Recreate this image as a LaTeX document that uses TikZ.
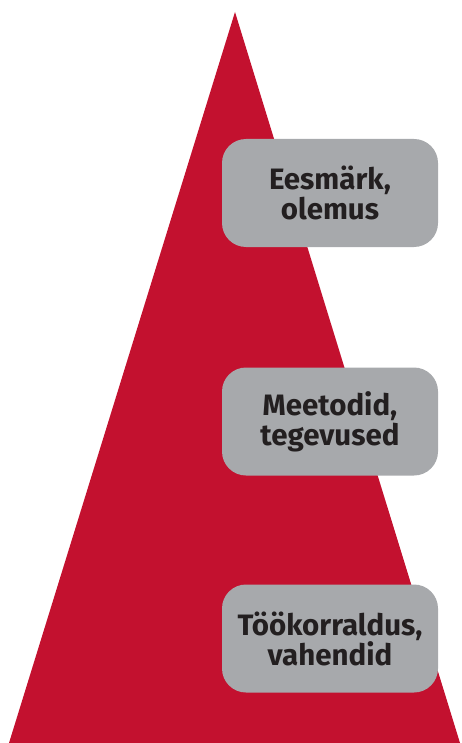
\documentclass[tikz,border=0pt]{standalone}
\usepackage{fontspec}
\setmainfont{Fira Sans}
\definecolor{pyrred}{HTML}{C3112F}
\definecolor{boxgrey}{HTML}{A7A9AC}
\definecolor{txt}{HTML}{231F20}
\begin{document}
\begin{tikzpicture}[x=1pt,y=-1pt,
  lbox/.style={fill=boxgrey, rounded corners=24pt, minimum width=216pt, minimum height=108pt,
    inner sep=0pt, align=center, text=txt, font=\fontsize{29.5}{30}\selectfont\bfseries}]
\useasboundingbox (0,0) rectangle (461,743);
\fill[pyrred] (235,12) -- (460,743) -- (9,743) -- cycle;
\node[lbox] (b1) at (330,193) {Eesmärk,\\olemus};
\node[lbox] (b2) at (330,421.5) {Meetodid,\\tegevused};
\node[lbox] (b3) at (330,638.5) {Töökorraldus,\\vahendid};
\end{tikzpicture}
\end{document}
